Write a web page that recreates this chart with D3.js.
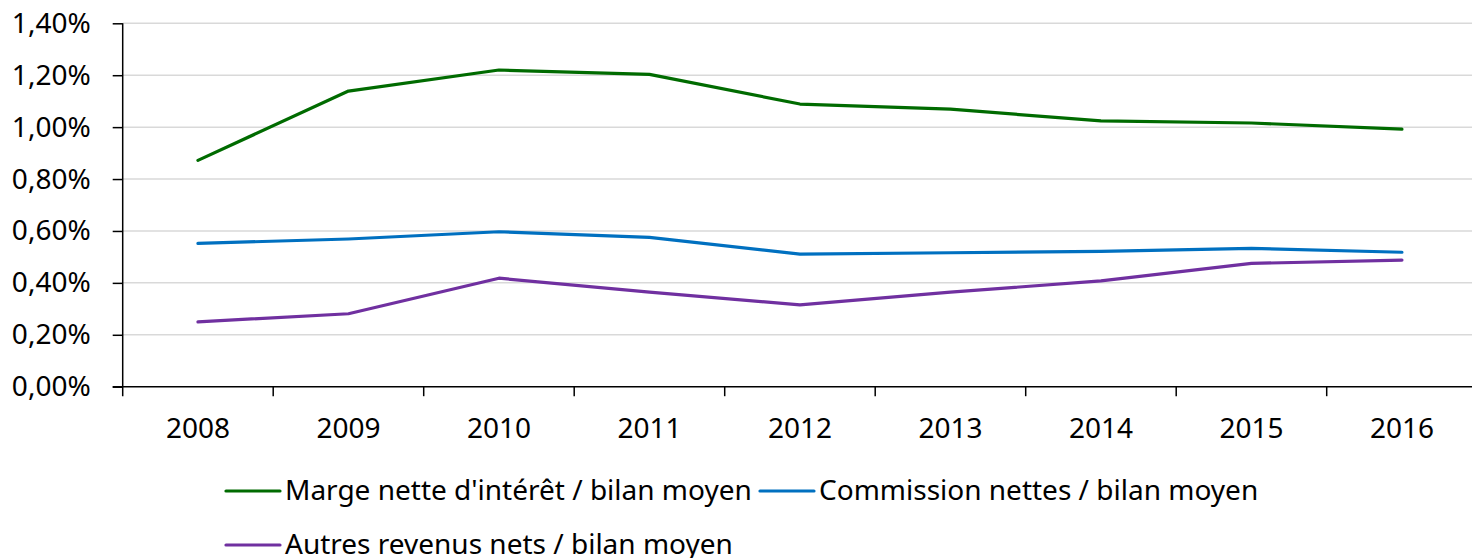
<!DOCTYPE html>
<html>
<head>
<meta charset="utf-8">
<script src="https://cdn.jsdelivr.net/npm/d3@7"></script>
<style>
  html, body { margin: 0; padding: 0; background: #fff; }
  svg { display: block; font-family: "Noto Sans", "Open Sans", sans-serif; }
</style>
</head>
<body>
<svg id="chart" width="1472" height="558"></svg>
<script>
const years = ['2008', '2009', '2010', '2011', '2012', '2013', '2014', '2015', '2016'];
const marge = [0.872, 1.139, 1.220, 1.203, 1.089, 1.069, 1.024, 1.016, 0.992];
const commission = [0.552, 0.569, 0.597, 0.575, 0.511, 0.516, 0.521, 0.533, 0.518];
const autres = [0.250, 0.281, 0.418, 0.364, 0.315, 0.364, 0.408, 0.475, 0.488];
const yTicks = [0, 0.2, 0.4, 0.6, 0.8, 1.0, 1.2, 1.4];

const series = [
  { name: "Marge nette d'intérêt / bilan moyen", values: marge, color: '#006b00' },
  { name: 'Commission nettes / bilan moyen', values: commission, color: '#0070c0' },
  { name: 'Autres revenus nets / bilan moyen', values: autres, color: '#7030a0' }
];

const W = 1472;
const fontSize = 28;
const plotLeft = 122.7, plotRight = 1477.2, plotTop = 23.3, plotBottom = 386.7;

const svg = d3.select('#chart');

const x = d3.scaleBand().domain(years).range([plotLeft, plotRight]).padding(0);
const y = d3.scaleLinear().domain([0, 1.4]).range([plotBottom, plotTop]);

const fr = d3.formatLocale({ decimal: ',', thousands: ' ', grouping: [3], currency: ['', '€'] });
const fmt = v => fr.format('.2f')(v) + '%';

// gridlines
svg.append('g')
  .selectAll('line')
  .data(yTicks.filter(d => d > 0))
  .join('line')
  .attr('x1', plotLeft).attr('x2', W)
  .attr('y1', d => y(d)).attr('y2', d => y(d))
  .attr('stroke', '#d9d9d9')
  .attr('stroke-width', 1.5);

// y axis
const yAxis = svg.append('g')
  .attr('transform', `translate(${plotLeft},0)`)
  .call(d3.axisLeft(y).tickValues(yTicks).tickFormat(fmt).tickSize(10).tickPadding(22));
yAxis.select('.domain').attr('stroke', '#000').attr('stroke-width', 1.5)
  .attr('d', `M0,${plotTop}V${plotBottom + 9.5}`);
yAxis.selectAll('.tick line').attr('stroke', '#000').attr('stroke-width', 1.5);
yAxis.selectAll('.tick text')
  .attr('font-size', fontSize).attr('fill', '#000').attr('font-family', '"Noto Sans", sans-serif');

// x axis
const xAxis = svg.append('g')
  .attr('transform', `translate(0,${plotBottom})`)
  .call(d3.axisBottom(x).tickSize(0).tickPadding(31));
xAxis.select('.domain').attr('stroke', '#000').attr('stroke-width', 1.5)
  .attr('d', `M${plotLeft - 10},0H${W}`);
xAxis.selectAll('.tick text')
  .attr('font-size', fontSize).attr('fill', '#000').attr('font-family', '"Noto Sans", sans-serif');
xAxis.append('g')
  .selectAll('line')
  .data(years.slice(1))
  .join('line')
  .attr('x1', d => x(d)).attr('x2', d => x(d))
  .attr('y1', 0).attr('y2', 9.5)
  .attr('stroke', '#000').attr('stroke-width', 1.5);

// lines
const line = d3.line()
  .x((d, i) => x(years[i]) + x.bandwidth() / 2)
  .y(d => y(d));

svg.append('g')
  .selectAll('path')
  .data(series)
  .join('path')
  .attr('d', d => line(d.values))
  .attr('fill', 'none')
  .attr('stroke', d => d.color)
  .attr('stroke-width', 3.2)
  .attr('stroke-linejoin', 'round')
  .attr('stroke-linecap', 'round');

// legend
const legendPos = [
  { x: 226, y: 491 },
  { x: 760, y: 491 },
  { x: 226, y: 545 }
];
const legend = svg.append('g')
  .selectAll('g')
  .data(series)
  .join('g')
  .attr('transform', (d, i) => `translate(${legendPos[i].x},${legendPos[i].y})`);
legend.append('line')
  .attr('x1', 0).attr('x2', 54)
  .attr('stroke', d => d.color)
  .attr('stroke-width', 3.2)
  .attr('stroke-linecap', 'round');
legend.append('text')
  .attr('x', 59)
  .attr('dy', '0.33em')
  .attr('font-size', fontSize)
  .attr('fill', '#000')
  .text(d => d.name);
</script>
</body>
</html>
